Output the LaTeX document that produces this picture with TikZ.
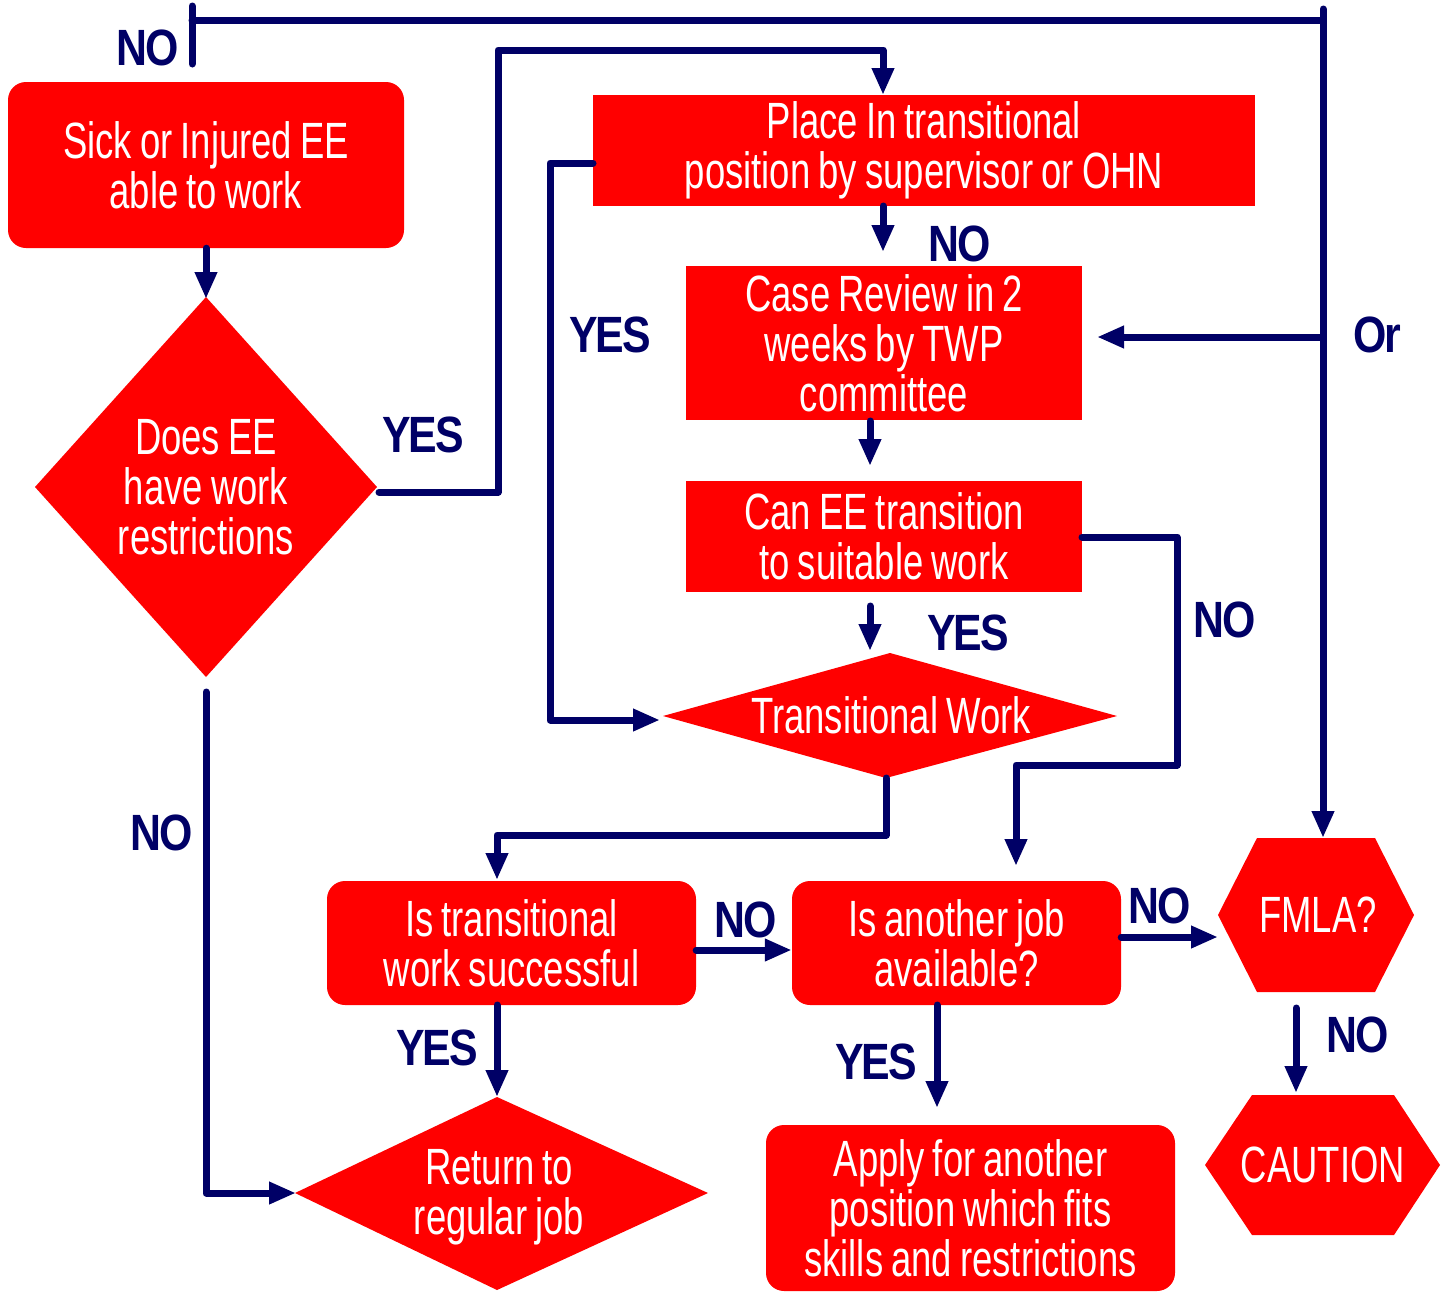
\documentclass[tikz,border=0pt]{standalone}
\usepackage{fontspec}
\usetikzlibrary{arrows.meta}
\newfontfamily\boxfont[FakeStretch=0.715,WordSpace=0.8]{Liberation Sans}
\newfontfamily\labfont[FakeStretch=0.84,LetterSpace=-4]{Liberation Sans}
\definecolor{navy}{RGB}{0,0,102}
\definecolor{boxred}{RGB}{255,0,0}
\tikzset{
  conn/.style={draw=navy, line width=7pt, line cap=round, line join=round},
  arr/.style={conn, -{Triangle[length=27pt,width=21pt]}},
  boxtxt/.style={text=white, font=\boxfont\fontsize{51}{50}\selectfont, align=center},
  redbox/.style={fill=boxred, draw=none, inner sep=0pt, boxtxt},
  roundbox/.style={redbox, rounded corners=18pt},
  lab/.style={text=navy, font=\labfont\bfseries\fontsize{51}{50}\selectfont, inner sep=0pt},
  shapefill/.style={fill=boxred, draw=none},
}
\begin{document}
\begin{tikzpicture}[x=1pt,y=-1pt]
\useasboundingbox (0,0) rectangle (1449,1291);

% ---- rectangular boxes ----
\node[roundbox, minimum width=396pt, minimum height=166pt] (sick) at (206,165) {Sick or Injured EE\\able to work};
\node[redbox, minimum width=662pt, minimum height=111pt] (place) at (924,150.5) {Place In transitional\\position by supervisor or OHN};
\node[redbox, minimum width=396pt, minimum height=154pt] (case) at (884,343) {Case Review in 2\\weeks by TWP\\committee};
\node[redbox, minimum width=396pt, minimum height=111pt] (can) at (884,536.5) {Can EE transition\\to suitable work};
\node[roundbox, minimum width=369pt, minimum height=124pt] (istw) at (511.5,943) {Is transitional\\work successful};
\node[roundbox, minimum width=329pt, minimum height=124pt] (another) at (956.5,943) {Is another job\\available?};
\node[roundbox, minimum width=409pt, minimum height=166pt] (apply) at (970.5,1208) {Apply for another\\position which fits\\skills and restrictions};

% ---- diamond: Does EE have work restrictions ----
\coordinate (dT) at (206,297);
\coordinate (dR) at (377,487);
\coordinate (dB) at (206,677);
\coordinate (dL) at (35,487);
\fill[shapefill] (dT) -- (dR) -- (dB) -- (dL) -- cycle;
\node[boxtxt] (does) at (206,487) {Does EE\\have work\\restrictions};

% ---- diamond: Transitional Work ----
\coordinate (twL) at (663,716);
\coordinate (twT) at (890,653);
\coordinate (twR) at (1117,716);
\coordinate (twB) at (886,778);
\fill[shapefill] (twL) -- (twT) -- (twR) -- (twB) -- cycle;
\node[boxtxt] (tw) at (891,715) {Transitional Work};

% ---- diamond: Return to regular job ----
\coordinate (rT) at (497,1097);
\coordinate (rR) at (708,1193);
\coordinate (rB) at (497,1290);
\coordinate (rL) at (295,1193);
\fill[shapefill] (rT) -- (rR) -- (rB) -- (rL) -- cycle;
\node[boxtxt] (ret) at (499,1197) {Return to\\regular job};

% ---- hexagon: FMLA? ----
\fill[shapefill] (1257,838) -- (1375,838) -- (1414,915) -- (1375,992) -- (1257,992) -- (1218,915) -- cycle;
\node[boxtxt] (fmla) at (1318,915) {FMLA?};
\coordinate (fmlaT) at (1323,838);
\coordinate (fmlaL) at (1218,937);

% ---- hexagon: CAUTION ----
\fill[shapefill] (1252,1095) -- (1394,1095) -- (1440,1165) -- (1394,1235) -- (1252,1235) -- (1205,1165) -- cycle;
\node[boxtxt] (caution) at (1323,1165) {CAUTION};
\coordinate (cautT) at (1296,1093);

% ---- connectors ----
% top NO loop
\coordinate (tickT) at (192,6);
\coordinate (tickB) at (192,64);
\coordinate (topL) at (192,20);
\coordinate (topR) at (1323,20);
\coordinate (topRT) at (1323,9);
\draw[conn] (tickT) -- (tickB);
\draw[conn] (topL) -- (topR);
\draw[arr] (topRT) -- (fmlaT);
% Or branch
\coordinate (orStart) at (1323,337);
\coordinate (caseR) at (1097,337);
\draw[arr] (orStart) -- (caseR);

% sick -> diamond
\draw[arr] (sick.south) -- ([yshift=-2pt]dT);

% YES from diamond to Place
\coordinate (dRline) at (379,492);
\coordinate (placeIn) at (883,95);
\draw[arr] (dRline) -- (498,492) -- (498,50) -- (883,50) -- (placeIn);

% YES from Place to Transitional Work
\coordinate (placeOut) at (593,163);
\coordinate (twIn) at (660,720);
\draw[arr] (placeOut) -- (550,163) -- (550,720) -- (twIn);

% Place -> Case Review
\draw[arr] (883,206) -- (883,252);
% Case -> Can
\draw[arr] (870,421) -- (870,466);
% Can -> Transitional Work
\draw[arr] (870,606) -- (870,651);

% NO from Can to another job
\coordinate (canR) at (1082,537);
\coordinate (anotherIn) at (1016,866);
\draw[arr] (canR) -- (1177,537) -- (1177,765) -- (1016,765) -- (anotherIn);

% Transitional Work -> Is transitional work successful
\coordinate (istwIn) at (497,880);
\draw[arr] (twB) -- (886,835) -- (497,835) -- (istwIn);

% NO from diamond to Return
\coordinate (dBline) at (206,692);
\coordinate (rLin) at (296,1193);
\draw[arr] (dBline) -- (206,1193) -- (rLin);

% istw -> another (NO)
\draw[arr] (istw.east |- 0,950) -- (another.west |- 0,950);
% istw -> return (YES)
\draw[arr] (497,1005) -- (rT);
% another -> apply (YES)
\draw[arr] (937,1005) -- (937,1108);
% another -> FMLA (NO)
\draw[arr] (another.east |- fmlaL) -- (fmlaL);
% FMLA -> CAUTION (NO)
\draw[arr] (1296,1008) -- (cautT);

% ---- labels ----
\node[lab] (l1) at (148,48) {NO};
\node[lab] (l2) at (423,435) {YES};
\node[lab] (l3) at (610,335) {YES};
\node[lab] (l4) at (960,244) {NO};
\node[lab] (l5) at (1377,335) {Or};
\node[lab] (l6) at (968,633) {YES};
\node[lab] (l7) at (1225,620) {NO};
\node[lab] (l8) at (162,833) {NO};
\node[lab] (l9) at (746,920) {NO};
\node[lab] (l10) at (437,1048) {YES};
\node[lab] (l11) at (876,1062) {YES};
\node[lab] (l12) at (1160,906) {NO};
\node[lab] (l13) at (1358,1035) {NO};
\end{tikzpicture}
\end{document}
